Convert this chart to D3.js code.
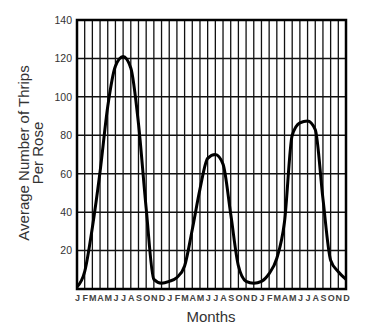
<!DOCTYPE html>
<html>
<head>
<meta charset="utf-8">
<script src="https://cdn.jsdelivr.net/npm/d3@7"></script>
<style>
  html, body { margin: 0; padding: 0; background: #fff; }
  svg { display: block; }
</style>
</head>
<body>
<svg id="chart" width="391" height="331"></svg>
<script>
// Month letters repeated over three years
const monthLetters = ["J","F","M","A","M","J","J","A","S","O","N","D"];
const months = [...monthLetters, ...monthLetters, ...monthLetters];

// Average number of thrips per rose, one value per month
const thrips = [
  1, 9, 32, 61, 95, 116, 121, 115, 86, 42, 5, 3,
  4, 6, 12, 31, 52, 68, 70, 65, 39, 12, 4, 3,
  4, 8, 16, 35, 80, 86.5, 87.5, 83, 47, 15, 9, 5
];

const yTicks = [20, 40, 60, 80, 100, 120, 140];

const svg = d3.select("#chart");
const margin = { left: 77, right: 45, top: 20, bottom: 42 };
const width = 391, height = 331;
const font = "Liberation Sans, Arial, sans-serif";

const x = d3.scaleLinear()
  .domain([0, months.length - 1])
  .range([margin.left, width - margin.right]);
const y = d3.scaleLinear()
  .domain([0, 140])
  .range([height - margin.bottom, margin.top]);

const grid = svg.append("g");

// vertical month lines
grid.selectAll("line.v")
  .data(d3.range(months.length))
  .join("line")
  .attr("x1", d => x(d)).attr("x2", d => x(d))
  .attr("y1", y(0)).attr("y2", y(140))
  .attr("stroke", "#111").attr("stroke-width", 1.3);

// horizontal value lines
grid.selectAll("line.h")
  .data(yTicks.filter(t => t < 140))
  .join("line")
  .attr("x1", x(0)).attr("x2", x(months.length - 1))
  .attr("y1", d => y(d)).attr("y2", d => y(d))
  .attr("stroke", "#111").attr("stroke-width", 1.5);

// frame
svg.append("rect")
  .attr("x", x(0)).attr("y", y(140))
  .attr("width", x(months.length - 1) - x(0))
  .attr("height", y(0) - y(140))
  .attr("fill", "none").attr("stroke", "#000").attr("stroke-width", 2.5);

// y tick labels
const yAxis = d3.axisLeft(y).tickValues(yTicks).tickSize(0).tickPadding(5);
const ya = svg.append("g").attr("transform", `translate(${x(0)},0)`).call(yAxis);
ya.select(".domain").remove();
ya.selectAll("text")
  .attr("font-family", font)
  .attr("font-size", 10.5).attr("fill", "#333");

// month labels
const xAxis = d3.axisBottom(x).tickValues(d3.range(months.length))
  .tickFormat(i => months[i]).tickSize(0).tickPadding(6);
const xa = svg.append("g").attr("transform", `translate(0,${y(0)})`).call(xAxis);
xa.select(".domain").remove();
xa.selectAll("text")
  .attr("font-family", font)
  .attr("font-size", 9).attr("font-weight", "bold").attr("fill", "#444");

// curve
const line = d3.line()
  .x((d, i) => x(i))
  .y(d => y(d))
  .curve(d3.curveMonotoneX);
svg.append("path")
  .datum(thrips)
  .attr("d", line)
  .attr("fill", "none")
  .attr("stroke", "#000")
  .attr("stroke-width", 3)
  .attr("stroke-linejoin", "round");

// axis titles
svg.append("text")
  .attr("x", 211)
  .attr("y", 322)
  .attr("text-anchor", "middle")
  .attr("font-family", font)
  .attr("font-size", 15).attr("fill", "#333")
  .text("Months");

const yTitle = svg.append("text")
  .attr("transform", "translate(28.5,153) rotate(-90)")
  .attr("text-anchor", "middle")
  .attr("font-family", font)
  .attr("font-size", 15).attr("fill", "#333");
yTitle.append("tspan").attr("x", 0).attr("dy", 0).text("Average Number of Thrips");
yTitle.append("tspan").attr("x", 0).attr("dy", 14.5).text("Per Rose");
</script>
</body>
</html>
